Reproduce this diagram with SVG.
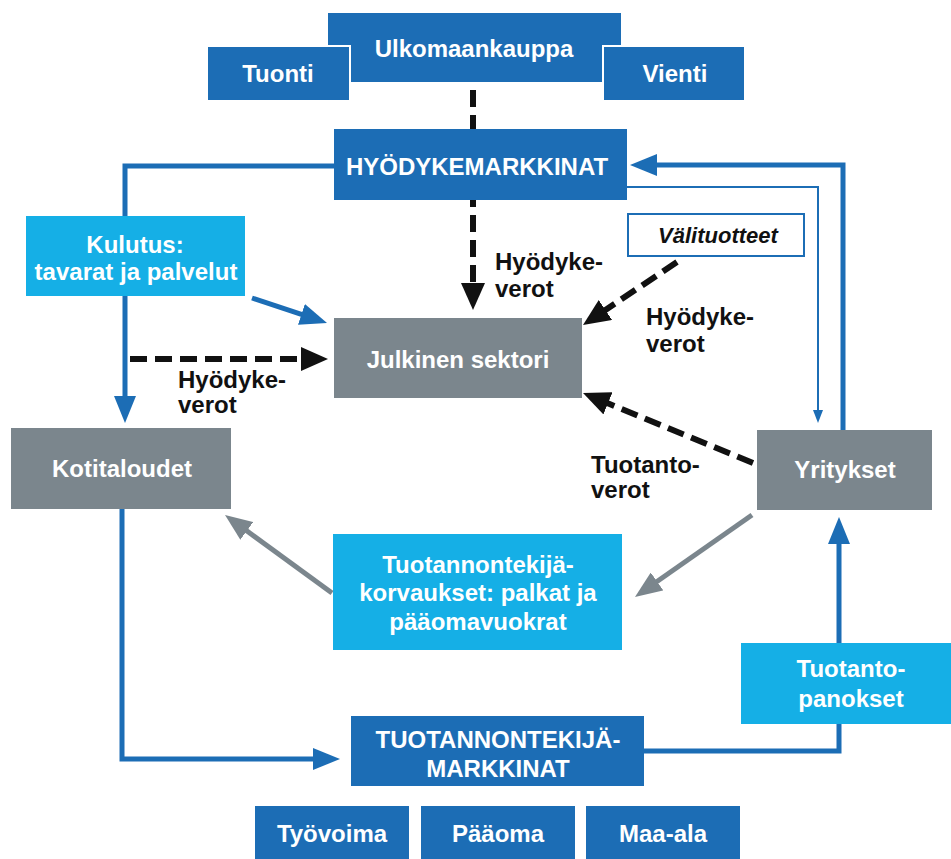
<svg xmlns="http://www.w3.org/2000/svg" width="951" height="859" viewBox="0 0 951 859">
<style>
.t{font-family:"Liberation Sans",Arial,sans-serif;font-weight:bold;font-size:24px}
.w{fill:#ffffff}
.k{fill:#111111}
.c{text-anchor:middle}
.db{fill:#1c6db5}
.lb{fill:#15afe6}
.gr{fill:#7b868d}
.bl{fill:none;stroke:#1c6db5;stroke-width:5}
.thin{fill:none;stroke:#1c6db5;stroke-width:2}
.gl{fill:none;stroke:#7b868d;stroke-width:5}
.dl{fill:none;stroke:#111111;stroke-width:6;stroke-dasharray:17 8}
</style>
<defs>
<marker id="ab" markerUnits="userSpaceOnUse" markerWidth="28" markerHeight="22" refX="4" refY="11" orient="auto"><path d="M0,0 L27,11 L0,22 z" fill="#1c6db5"/></marker>
<marker id="ak" markerUnits="userSpaceOnUse" markerWidth="28" markerHeight="24" refX="4" refY="12" orient="auto"><path d="M0,0 L27,12 L0,24 z" fill="#111111"/></marker>
<marker id="ag" markerUnits="userSpaceOnUse" markerWidth="28" markerHeight="22" refX="4" refY="11" orient="auto"><path d="M0,0 L27,11 L0,22 z" fill="#7b868d"/></marker>
<marker id="as" markerUnits="userSpaceOnUse" markerWidth="14" markerHeight="10" refX="2" refY="5" orient="auto"><path d="M0,0 L13,5 L0,10 z" fill="#1c6db5"/></marker>
</defs>
<rect width="951" height="859" fill="#ffffff"/>
<g id="connectors">
<path class="dl" d="M473 90 V287" marker-end="url(#ak)"/>
<path class="bl" d="M334 166 H125 V400" marker-end="url(#ab)"/>
<path class="bl" d="M252 298 L305.2 315.7" marker-end="url(#ab)"/>
<path class="dl" d="M130 359 H305" marker-end="url(#ak)"/>
<path class="dl" d="M677 262 L602.1 312.2" marker-end="url(#ak)"/>
<path class="dl" d="M753 463 L604.3 401.8" marker-end="url(#ak)"/>
<path class="bl" d="M843 430 V165 H653" marker-end="url(#ab)"/>
<path class="thin" d="M627 187 H818 V412" marker-end="url(#as)"/>
<path class="gl" d="M752 515 L653.8 583.8" marker-end="url(#ag)"/>
<path class="gl" d="M332 593 L243.6 528.5" marker-end="url(#ag)"/>
<path class="bl" d="M122 509 V759 H317" marker-end="url(#ab)"/>
<path class="bl" d="M644 751 H839 V540" marker-end="url(#ab)"/>
</g>
<g id="ulkomaankauppa"><rect class="db" x="328" y="13" width="293" height="69"/><text class="t w c" x="474" y="57">Ulkomaankauppa</text></g>
<g id="tuonti"><rect class="db" x="207" y="46" width="143" height="55" stroke="#ffffff" stroke-width="2"/><text class="t w c" x="278" y="82">Tuonti</text></g>
<g id="vienti"><rect class="db" x="603" y="46" width="142" height="55" stroke="#ffffff" stroke-width="2"/><text class="t w c" x="675" y="82">Vienti</text></g>
<g id="hyodykemarkkinat"><rect class="db" x="334" y="129" width="293" height="71"/><text class="t w c" x="477" y="175">HYÖDYKEMARKKINAT</text></g>
<g id="kulutus"><rect class="lb" x="26" y="216" width="219" height="80"/><text class="t w c" x="135" y="253">Kulutus:</text><text class="t w c" x="136" y="280">tavarat ja palvelut</text></g>
<g id="julkinen"><rect class="gr" x="334" y="318" width="248" height="80"/><text class="t w c" x="458" y="368">Julkinen sektori</text></g>
<g id="valituotteet"><rect x="628" y="214" width="176" height="42" fill="#ffffff" stroke="#1c6db5" stroke-width="2"/><text class="t k c" x="718" y="243" font-size="22" font-style="italic" style="font-size:22px">Välituotteet</text></g>
<g id="label-hyodykeverot-1"><text class="t k" x="495" y="270">Hyödyke-</text><text class="t k" x="495" y="297">verot</text></g>
<g id="label-hyodykeverot-2"><text class="t k" x="178" y="388">Hyödyke-</text><text class="t k" x="178" y="413">verot</text></g>
<g id="label-hyodykeverot-3"><text class="t k" x="646" y="325">Hyödyke-</text><text class="t k" x="646" y="352">verot</text></g>
<g id="label-tuotantoverot"><text class="t k" x="591" y="473">Tuotanto-</text><text class="t k" x="591" y="498">verot</text></g>
<g id="kotitaloudet"><rect class="gr" x="11" y="428" width="220" height="81"/><text class="t w c" x="122" y="477">Kotitaloudet</text></g>
<g id="yritykset"><rect class="gr" x="757" y="430" width="175" height="80"/><text class="t w c" x="845" y="478">Yritykset</text></g>
<g id="korvaukset"><rect class="lb" x="333" y="534" width="289" height="116"/><text class="t w c" x="478" y="573">Tuotannontekijä-</text><text class="t w c" x="478" y="601">korvaukset: palkat ja</text><text class="t w c" x="478" y="630">pääomavuokrat</text></g>
<g id="tuotantopanokset"><rect class="lb" x="741" y="643" width="210" height="81"/><text class="t w c" x="851" y="677">Tuotanto-</text><text class="t w c" x="851" y="707">panokset</text></g>
<g id="tuotannontekijamarkkinat"><rect class="db" x="351" y="716" width="293" height="70"/><text class="t w c" x="498" y="748">TUOTANNONTEKIJÄ-</text><text class="t w c" x="498" y="777">MARKKINAT</text></g>
<g id="tyovoima"><rect class="db" x="255" y="806" width="154" height="53"/><text class="t w c" x="332" y="842">Työvoima</text></g>
<g id="paaoma"><rect class="db" x="421" y="806" width="154" height="53"/><text class="t w c" x="498" y="842">Pääoma</text></g>
<g id="maa-ala"><rect class="db" x="586" y="806" width="154" height="53"/><text class="t w c" x="663" y="842">Maa-ala</text></g>
</svg>
